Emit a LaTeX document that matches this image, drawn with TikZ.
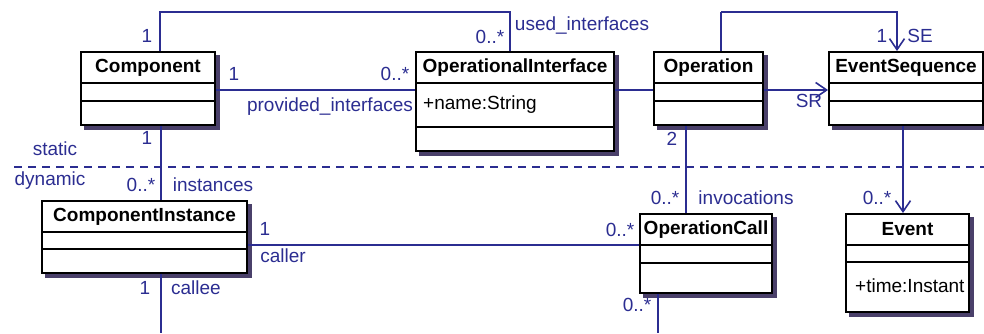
\documentclass[tikz,border=0pt]{standalone}
\usepackage{fontspec}
\setmainfont{Liberation Sans}
\usetikzlibrary{arrows.meta,backgrounds}
\definecolor{lnblue}{RGB}{43,45,145}
\definecolor{shcol}{RGB}{74,64,106}
\begin{document}
\begin{tikzpicture}[x=1pt,y=-1pt,
  every node/.style={font=\fontsize{19pt}{22pt}\selectfont},
  cls/.style={draw=black, line width=1.9pt, fill=white, inner sep=0pt},
  shadowbox/.style={fill=shcol},
  div/.style={draw=black, line width=1.7pt},
  ttl/.style={inner sep=0pt, font=\fontsize{19pt}{22pt}\selectfont\bfseries, text=black},
  attr/.style={inner sep=0pt, anchor=west, text=black},
  lbl/.style={inner sep=0pt, text=lnblue},
  conn/.style={draw=lnblue, line width=1.6pt},
  nav/.style={conn, -{Straight Barb[length=11pt,width=15pt,line width=1.6pt]}},
  sep/.style={draw=lnblue, line width=1.6pt, dash pattern=on 8pt off 6pt}]
\useasboundingbox (0,0) rectangle (984,333);

% ---- classes ----
\node[cls, minimum width=134pt, minimum height=73pt] (comp) at (148,88.5) {};
\node[cls, minimum width=198pt, minimum height=99pt] (opif) at (515,101.5) {};
\node[cls, minimum width=109pt, minimum height=73pt] (op) at (708.5,88.5) {};
\node[cls, minimum width=154pt, minimum height=73pt] (es) at (906,88.5) {};
\node[cls, minimum width=205pt, minimum height=72pt] (ci) at (144.5,237) {};
\node[cls, minimum width=132pt, minimum height=79pt] (oc) at (706,253.5) {};
\node[cls, minimum width=123pt, minimum height=98pt] (ev) at (907.5,263) {};

% shadows
\begin{scope}[on background layer]
\foreach \n in {comp,opif,op,es,ci,oc,ev}{
  \fill[shadowbox] ([shift={(4,4)}]\n.south west) rectangle ([shift={(4,4)}]\n.north east);
}
\end{scope}

% dividers
\coordinate (d83) at (0,83);
\coordinate (d101) at (0,101);
\coordinate (d127) at (0,127);
\coordinate (d232) at (0,232);
\coordinate (d249) at (0,249);
\coordinate (d245) at (0,245);
\coordinate (d263) at (0,263);
\coordinate (d262) at (0,262);
\foreach \n/\a/\b in {comp/d83/d101, opif/d83/d127, op/d83/d101, es/d83/d101, ci/d232/d249, oc/d245/d263, ev/d245/d262}{
  \draw[div] (\n.west |- \a) -- (\n.east |- \a);
  \draw[div] (\n.west |- \b) -- (\n.east |- \b);
}

% titles and attributes
\node[ttl] (compT) at (148,67.5) {Component};
\node[ttl] (opifT) at (515,67.5) {OperationalInterface};
\node[ttl] (opT) at (708.5,67.5) {Operation};
\node[ttl] (esT) at (906,67.5) {EventSequence};
\node[ttl] (ciT) at (144.5,216.5) {ComponentInstance};
\node[ttl] (ocT) at (706,229.5) {OperationCall};
\node[ttl] (evT) at (907.5,229.5) {Event};
\node[attr] (opifA) at (423,105) {+name:String};
\node[attr] (evA) at (855,286) {+time:Instant};

% ---- separator ----
\coordinate (sepL) at (14,167);
\coordinate (sepR) at (984,167);
\draw[sep] (sepL) -- (sepR);
\node[lbl] (stat) at (55,149) {static};
\node[lbl] (dyn) at (50,181) {dynamic};

% ---- connectors ----
\coordinate (topY) at (0,12);
\coordinate (h90) at (0,90);
\coordinate (h245) at (0,245);
\coordinate (c1) at (160,0);
\coordinate (c2) at (510,0);
\coordinate (c3) at (721,0);
\coordinate (c4) at (897,0);
\coordinate (v1) at (161,0);
\coordinate (v2) at (686,0);
\coordinate (v3) at (903,0);
\coordinate (ciEnd) at (161,333);
\coordinate (ocEnd) at (658,333);

% used_interfaces
\draw[conn] (comp.north -| c1) -- (topY -| c1) -- (topY -| c2) -- (opif.north -| c2);
% provided_interfaces
\draw[conn] (comp.east |- h90) -- (opif.west |- h90);
% interface - operation
\draw[conn] (opif.east |- h90) -- (op.west |- h90);
% SE
\draw[nav] (topY -| c3) -- (topY -| c4) -- (es.north -| c4);
\draw[conn] (op.north -| c3) -- (topY -| c3);
% SR
\draw[nav] (op.east |- h90) -- (es.west |- h90);
% instances
\draw[conn] (comp.south -| v1) -- (ci.north -| v1);
% invocations
\draw[conn] (op.south -| v2) -- (oc.north -| v2);
% events
\draw[nav] (es.south -| v3) -- (ev.north -| v3);
% caller
\draw[conn] (ci.east |- h245) -- (oc.west |- h245);
% callee
\draw[conn] (ci.south -| ciEnd) -- (ciEnd);
% opcall down
\draw[conn] (oc.south -| ocEnd) -- (ocEnd);

% ---- labels ----
\node[lbl] (m1) at (147,36) {1};
\node[lbl] (m2) at (490,37) {0..*};
\node[lbl] (l1) at (582,25) {used\_interfaces};
\node[lbl] (m3) at (234,74) {1};
\node[lbl] (l2) at (330,107) {provided\_interfaces};
\node[lbl] (m4) at (395,74) {0..*};
\node[lbl] (m5) at (882,36) {1};
\node[lbl] (l3) at (920,36) {SE};
\node[lbl] (l4) at (809,101) {SR};
\node[lbl] (m6) at (147,138) {1};
\node[lbl] (m7) at (672,139) {2};
\node[lbl] (m8) at (141,185) {0..*};
\node[lbl] (l5) at (213,185) {instances};
\node[lbl] (m9) at (265,229) {1};
\node[lbl] (l6) at (283,256) {caller};
\node[lbl] (m10) at (620,230) {0..*};
\node[lbl] (m11) at (665,198) {0..*};
\node[lbl] (l7) at (746,198) {invocations};
\node[lbl] (m12) at (877,198) {0..*};
\node[lbl] (m13) at (145,288) {1};
\node[lbl] (l8) at (196,288) {callee};
\node[lbl] (m14) at (637,305) {0..*};
\end{tikzpicture}
\end{document}
